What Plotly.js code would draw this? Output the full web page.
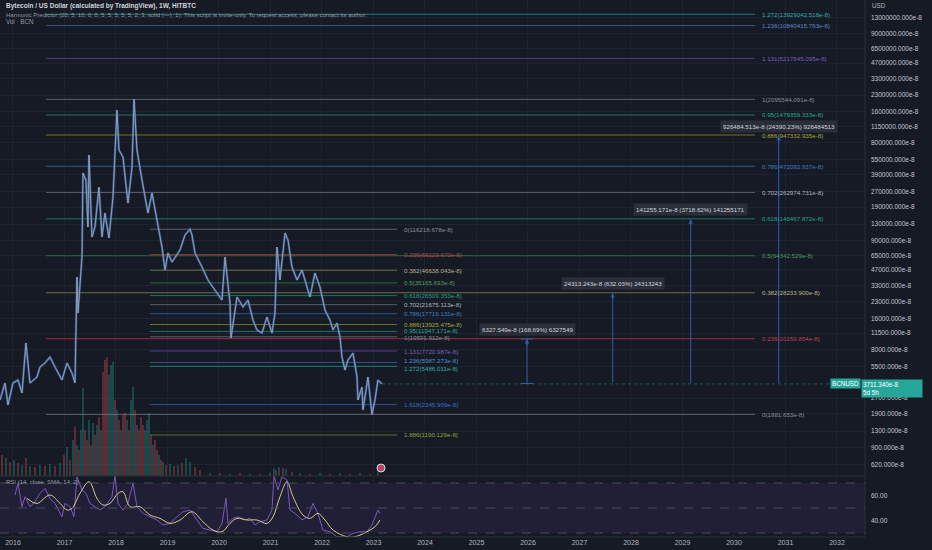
<!DOCTYPE html>
<html><head><meta charset="utf-8">
<script src="https://cdn.plot.ly/plotly-3.0.1.min.js"></script>
<style>html,body{margin:0;padding:0;background:#161a25;overflow:hidden}</style>
</head><body><div id="chart" style="width:932px;height:550px"></div>
<script>
// ---- price (weekly path, decimal years) ----
const priceDates = [2015.748,2015.845,2015.903,2016.000,2016.097,2016.175,2016.252,2016.330,2016.466,2016.524,2016.621,2016.718,2016.816,2016.951,2017.049,2017.146,2017.204,2017.243,2017.262,2017.340,2017.359,2017.417,2017.456,2017.476,2017.534,2017.592,2017.670,2017.728,2017.786,2017.864,2017.942,2018.019,2018.058,2018.136,2018.233,2018.311,2018.350,2018.408,2018.505,2018.563,2018.621,2018.699,2018.796,2018.893,2018.951,2019.010,2019.087,2019.243,2019.340,2019.437,2019.476,2019.534,2019.670,2019.786,2019.922,2020.058,2020.117,2020.214,2020.233,2020.350,2020.466,2020.563,2020.660,2020.738,2020.835,2020.932,2021.029,2021.087,2021.126,2021.184,2021.282,2021.340,2021.417,2021.515,2021.612,2021.709,2021.767,2021.864,2021.961,2022.058,2022.155,2022.214,2022.291,2022.350,2022.388,2022.447,2022.505,2022.602,2022.680,2022.699,2022.777,2022.796,2022.893,2022.971,2023.029,2023.087,2023.165];
const priceValues = [2592,3785,2319,3785,4046,3029,9222,3785,4325,5404,5906,6752,5404,4046,5906,4727,3785,40100,17990,62600,406200,347700,122100,606700,97700,122100,297500,97700,166700,95600,238100,1653000,678000,580200,208300,464400,2095544,678000,347700,238100,166700,260300,142700,78200,46860,68430,56000,73150,102200,116200,102200,68430,50100,37510,30010,24030,62600,22470,10300,25680,20560,24030,15390,12320,11520,16460,11520,17990,78200,37510,106800,91400,50100,37510,46860,32090,25680,43840,32090,19230,15390,12320,14400,10540,6752,5054,6316,7383,4325,2592,3462,2074,4325,1882,2592,4046,3711.34];
const lastPrice = 3711.34;

// ---- volume ----
const volumeDates = [2015.786,2015.864,2015.942,2016.019,2016.097,2016.175,2016.252,2016.330,2016.427,2016.524,2016.621,2016.718,2016.816,2016.913,2016.990,2017.049,2017.107,2017.165,2017.204,2017.243,2017.282,2017.320,2017.359,2017.398,2017.437,2017.476,2017.515,2017.553,2017.592,2017.631,2017.670,2017.709,2017.748,2017.786,2017.825,2017.864,2017.903,2017.942,2017.981,2018.019,2018.058,2018.097,2018.136,2018.175,2018.214,2018.252,2018.291,2018.330,2018.369,2018.408,2018.447,2018.485,2018.524,2018.563,2018.602,2018.641,2018.680,2018.718,2018.757,2018.796,2018.835,2018.874,2018.913,2018.971,2019.049,2019.126,2019.204,2019.282,2019.359,2019.437,2019.534,2019.631,2019.825,2020.019,2020.214,2020.408,2020.602,2020.796,2020.990,2021.068,2021.107,2021.165,2021.243,2021.301,2021.417,2021.573,2021.767,2021.961,2022.155,2022.350,2022.544,2022.738,2022.932,2023.087];
const volumeValues = [21,18,14,16,13,11,18,10,9,11,10,12,10,13,21,29,16,36,49,31,26,46,88,46,36,56,31,53,41,51,59,46,104,116,119,101,111,114,76,66,56,46,61,63,56,46,76,89,66,51,46,59,51,46,56,63,41,31,36,26,21,16,14,11,12,10,11,13,18,14,9,6,3,3,2,3,2,2,3,8,6,9,8,7,4,3,2,3,2,3,2,3,2,4];
const volumeUp = [0,1,0, 1,0,1,0,1,0,1,0,1,0,1,0, 1,0,1,0,1,0,1,1,0,0,1,0,1,0,1,0,1,0,0,0,1,1,1,0, 1,0,1,0,0,1,0,1,1,0,1,0,0,0,1,1,1,0,1,0,0,1,0,1,0, 1,0,1,0,1,1,0,0,1, 0,1,0,1,0,1, 1,0,1,0,1,0,1,0,1, 0,1,0,1,0, 1];
const eventDates = [2023.146];

// ---- RSI ----
const rsiDates = [2016.039,2016.097,2016.175,2016.233,2016.330,2016.427,2016.524,2016.621,2016.718,2016.816,2016.951,2017.010,2017.107,2017.184,2017.243,2017.340,2017.417,2017.495,2017.592,2017.689,2017.786,2017.922,2017.981,2018.039,2018.136,2018.233,2018.330,2018.408,2018.524,2018.660,2018.796,2018.913,2019.049,2019.184,2019.301,2019.437,2019.573,2019.689,2019.825,2019.961,2020.058,2020.136,2020.175,2020.272,2020.369,2020.505,2020.602,2020.699,2020.796,2020.932,2021.029,2021.068,2021.146,2021.223,2021.320,2021.379,2021.476,2021.612,2021.728,2021.825,2021.922,2022.019,2022.155,2022.291,2022.485,2022.602,2022.738,2022.874,2022.971,2023.029,2023.087,2023.126];
const rsiValues = [60.4,69.7,51,59,51,55,61.7,65.7,57.7,53.7,43,53.7,51,43,75,64.4,61.7,53.7,51,48.4,51,59,76,53.7,48.4,53.7,69.7,51,45.7,43,40.4,36.4,37.7,43,47,48.4,40.4,33.7,32.4,31,37.7,57.7,37.7,41.7,43,40.4,41.7,36.4,39,40.4,48.4,76,64.4,75,72.4,48.4,45.7,40.4,43,53.7,45.7,32.4,31,27,27,29.7,31,31,36.4,43,48.4,45.7];
const rsiMaDates = [2016.272,2016.466,2016.718,2016.913,2017.049,2017.146,2017.301,2017.476,2017.631,2017.748,2017.883,2018.039,2018.136,2018.272,2018.466,2018.660,2018.854,2019.049,2019.243,2019.476,2019.689,2019.883,2020.058,2020.214,2020.350,2020.544,2020.738,2020.932,2021.049,2021.184,2021.320,2021.437,2021.631,2021.767,2021.922,2022.058,2022.214,2022.485,2022.641,2022.874,2023.029,2023.126];
const rsiMaValues = [57.7,53.7,60.4,53.7,48.4,49.7,61.7,71,57.7,52.4,53.7,61.7,63,51,51,44.4,41.7,37.7,40.4,47,39,32.4,31,37.7,41.7,40.4,40.4,37.7,43,59,71,59,44.4,41.7,45.7,40.4,32.4,27,27,31,35,40.4];
const rsiLevels = [70, 50, 30];

// ---- Fibonacci set A (large) ----
const fibALevels = ['1.272','1.236','1.131','1','0.95','0.886','0.786','0.702','0.618','0.5','0.382','0.236','0'];
const fibAValues = [13929042.518,10840415.763,5217845.095,2095544.091,1479359.333,947332.935,472092.937,262974.731,146467.872,64342.529,28233.900,10150.854,1881.653];
const fibAStart = 2016.641, fibAEnd = 2030.408;
// ---- Fibonacci set B (small) ----
const fibBLevels = ['0','0.236','0.382','0.5','0.618','0.702','0.786','0.886','0.95','1','1.131','1.236','1.272','1.618','1.886'];
const fibBValues = [116218.678,66123.672,46638.043,35165.693,26509.353,21675.113,17719.131,13925.475,11947.171,10591.912,7720.987,5987.273,5486.011,2345.909,1190.129];
const fibBStart = 2018.660, fibBEnd = 2023.456;

// ---- price-range projections ----
const projDates = [2025.981, 2027.645, 2029.159, 2030.868];
const projBase = [3751.0, 3846.9, 3798.6, 3798.6];
const projChange = ['6327.549','24313.243','141255.171','926484.513'];
const projPct = ['168.69%','632.03%','3718.62%','24390.23%'];
const projRaw = ['6327549','24313243','141255171','926484513'];

// ---- axes ----
const priceTicks = [13000000,9000000,6500000,4700000,3300000,2300000,1600000,1150000,800000,550000,390000,270000,190000,130000,90000,65000,47000,33000,23000,16000,11500,8000,5500,2700,1900,1300,900,620];
const years = [2016,2017,2018,2019,2020,2021,2022,2023,2024,2025,2026,2027,2028,2029,2030,2031,2032];
const xRange = [2015.748, 2032.544];

const levelStyle = {
 '0':['#5d6069','#8b8e97'], '0.236':['#96303a','#b8464f'], '0.382':['#6e6c47','#b9b38e'],
 '0.5':['#2f6b3c','#4e9a5c'], '0.618':['#1c7566','#22a38b'], '0.702':['#5a5d66','#b2b5bd'],
 '0.786':['#275b8c','#3a80c2'], '0.886':['#6a7420','#a2ab36'], '0.95':['#1c7566','#2aa88f'],
 '1':['#5d6069','#8b8e97'], '1.131':['#503d86','#7a5fbb'], '1.236':['#35587f','#4d8fca'],
 '1.272':['#1c7e77','#2bb0a0'], '1.618':['#2a4f8f','#3b6cc2'], '1.886':['#5a7020','#8aa532']
};
// small vertical nudges so that near-coincident labels stay readable
const labelNudgeB = {'1.236': 2, '1.272': -2, '0.95': 1, '1': -1};

const L = Math.log10;
const FONT = '"Liberation Sans", Arial, sans-serif';
const traces = [];
const annotations = [];

traces.push({type:'bar', x:volumeDates, y:volumeValues, xaxis:'x', yaxis:'y3', width:0.03,
  marker:{color:volumeUp.map(u=>u?'rgba(38,166,154,0.42)':'rgba(239,83,80,0.42)'), line:{width:0}}, hoverinfo:'skip'});
traces.push({type:'scatter', mode:'markers', x:eventDates, y:[8], xaxis:'x', yaxis:'y3',
  marker:{size:8, color:'#b04a62', line:{color:'#d8dbe2', width:1}}, hoverinfo:'skip'});

function fibSet(levels, values, x0, x1, nudge) {
  levels.forEach((lv,i)=>{
    traces.push({type:'scatter', mode:'lines', x:[x0,x1], y:[values[i],values[i]], xaxis:'x', yaxis:'y',
      line:{color:levelStyle[lv][0], width:1}, hoverinfo:'skip'});
    annotations.push({x:x1, y:L(values[i]), xref:'x', yref:'y', xanchor:'left', yanchor:'middle', xshift:5,
      yshift:(nudge && nudge[lv]) || 0,
      showarrow:false, text:lv+'('+values[i].toFixed(3)+'e-8)', font:{size:6.2, color:levelStyle[lv][1], family:FONT}});
  });
}
fibSet(fibALevels, fibAValues, fibAStart, fibAEnd, null);
fibSet(fibBLevels, fibBValues, fibBStart, fibBEnd, labelNudgeB);

// current price line
traces.push({type:'scatter', mode:'lines', x:[priceDates[priceDates.length-1], xRange[1]], y:[lastPrice,lastPrice],
  xaxis:'x', yaxis:'y', line:{color:'rgba(38,166,154,0.45)', width:1, dash:'dot'}, hoverinfo:'skip'});

// price: blue bodies under light wicks
traces.push({type:'scatter', mode:'lines', x:priceDates, y:priceValues, xaxis:'x', yaxis:'y',
  line:{color:'rgba(66,112,180,0.75)', width:2.2}, hoverinfo:'skip'});
traces.push({type:'scatter', mode:'lines', x:priceDates, y:priceValues, xaxis:'x', yaxis:'y',
  line:{color:'#a3abbb', width:0.8}, hoverinfo:'skip'});

// projections
projDates.forEach((d,i)=>{
  const top = projBase[i] + parseFloat(projChange[i]);
  traces.push({type:'scatter', mode:'lines', x:[d,d], y:[projBase[i], top], xaxis:'x', yaxis:'y',
    line:{color:'#2e5aa6', width:1}, hoverinfo:'skip'});
  annotations.push({x:d, y:L(top), xref:'x', yref:'y', ax:d, ay:L(top)-0.08, axref:'x', ayref:'y',
    showarrow:true, arrowhead:2, arrowsize:0.9, arrowwidth:1, arrowcolor:'#2e5aa6', text:''});
  annotations.push({x:d, y:L(top), xref:'x', yref:'y', xanchor:'center', yanchor:'bottom', yshift:3, showarrow:false,
    text:projChange[i]+'e-8 ('+projPct[i]+') '+projRaw[i], bgcolor:'#2a2e39', borderpad:2,
    font:{size:6.2, color:'#d1d4dc', family:FONT}});
});
// end caps of the first range tool
[projBase[0], projBase[0] + parseFloat(projChange[0])].forEach(v=>{
  traces.push({type:'scatter', mode:'lines', x:[projDates[0]-0.12, projDates[0]+0.12], y:[v,v], xaxis:'x', yaxis:'y',
    line:{color:'#3b5fa8', width:1}, hoverinfo:'skip'});
});

// RSI
traces.push({type:'scatter', mode:'lines', x:rsiDates, y:rsiValues, xaxis:'x', yaxis:'y2',
  line:{color:'#7e57c2', width:1}, hoverinfo:'skip'});
traces.push({type:'scatter', mode:'lines', x:rsiMaDates, y:rsiMaValues, xaxis:'x', yaxis:'y2',
  line:{color:'#d3cf86', width:1, shape:'spline'}, hoverinfo:'skip'});

const priceDomainBottom = 61/537;
const shapes = [
  {type:'rect', xref:'paper', x0:0, x1:1, yref:'y2', y0:30, y1:70, fillcolor:'#201f36', line:{width:0}, layer:'below'},
  {type:'line', xref:'paper', x0:0, x1:1, yref:'paper', y0:priceDomainBottom, y1:priceDomainBottom, line:{color:'#2a2e39', width:1}},
  {type:'line', xref:'paper', x0:0, x1:1, yref:'paper', y0:0, y1:0, line:{color:'#2a2e39', width:1}},
  {type:'line', xref:'paper', x0:1, x1:1, yref:'paper', y0:0, y1:1, line:{color:'#2a2e39', width:1}}
];
rsiLevels.forEach(v=>shapes.push({type:'line', xref:'paper', x0:0, x1:1, yref:'y2', y0:v, y1:v,
  line:{color:'#4a4d5a', width:1, dash:'dash'}}));

// header texts
annotations.push({xref:'paper', yref:'paper', x:0, y:1, xanchor:'left', yanchor:'middle', xshift:4, yshift:-6, showarrow:false,
  text:'<b>Bytecoin / US Dollar (calculated by TradingView), 1W, HITBTC</b>', font:{size:6.5, color:'#d1d4dc', family:FONT}});
annotations.push({xref:'paper', yref:'paper', x:0, y:1, xanchor:'left', yanchor:'middle', xshift:4, yshift:-14.5, showarrow:false,
  text:'Harmonic Predictor (20, 5, 10, 0, 0, 5, 5, 5, 5, 5, 2, 3, solid (—), 1): This script is invite-only. To request access, please contact its author.',
  font:{size:6.0, color:'#9598a1', family:FONT}});
annotations.push({xref:'paper', yref:'paper', x:0, y:1, xanchor:'left', yanchor:'middle', xshift:4, yshift:-21.5, showarrow:false,
  text:'Vol · BCN', font:{size:6.3, color:'#9598a1', family:FONT}});
annotations.push({xref:'paper', yref:'paper', x:0, y:priceDomainBottom, xanchor:'left', yanchor:'middle', xshift:4, yshift:-6, showarrow:false,
  text:'RSI (14, close, SMA, 14, 2)', font:{size:6.0, color:'#9598a1', family:FONT}});
annotations.push({xref:'paper', yref:'paper', x:1, y:1, xanchor:'left', yanchor:'middle', xshift:5, yshift:-5, showarrow:false,
  text:'USD', font:{size:6.3, color:'#b2b5be', family:FONT}});
// last price labels
annotations.push({xref:'paper', yref:'y', x:1, y:L(lastPrice), xanchor:'left', yanchor:'top', xshift:-4, yshift:5, showarrow:false,
  text:'3711.340e-8<br>5d 5h', align:'left', width:58, bgcolor:'#26a69a', borderpad:1, font:{size:6.3, color:'#ffffff', family:FONT}});
annotations.push({xref:'paper', yref:'y', x:1, y:L(lastPrice), xanchor:'right', yanchor:'middle', xshift:-4, showarrow:false,
  text:'BCNUSD', bgcolor:'#26a69a', borderpad:1, font:{size:6.3, color:'#ffffff', family:FONT}});

const layout = {
  width:932, height:550, margin:{l:0, r:67, t:0, b:13},
  paper_bgcolor:'#161a25', plot_bgcolor:'#161a25', showlegend:false, hovermode:false, dragmode:false,
  font:{family:FONT, color:'#b2b5be', size:7},
  xaxis:{type:'linear', range:xRange, anchor:'y2', tickvals:years, ticktext:years.map(String),
    showgrid:true, gridcolor:'#1e2231', zeroline:false, showline:false, ticks:'',
    tickfont:{size:7, color:'#b2b5be', family:FONT}, fixedrange:true},
  yaxis:{type:'log', domain:[priceDomainBottom,1], range:[2.679,7.282], side:'right', anchor:'x',
    tickvals:priceTicks, ticktext:priceTicks.map(v=>v+'.000e-8'), showgrid:true, gridcolor:'#1e2231',
    zeroline:false, showline:false, ticks:'', ticklabelstandoff:5, tickfont:{size:6.5, color:'#c3c6ce', family:FONT}, fixedrange:true},
  yaxis2:{domain:[0,priceDomainBottom], range:[26.8,75.6], side:'right', anchor:'x', tickvals:[40,60], ticktext:['40.00','60.00'],
    showgrid:false, zeroline:false, showline:false, ticks:'', ticklabelstandoff:5, tickfont:{size:6.5, color:'#c3c6ce', family:FONT}, fixedrange:true},
  yaxis3:{overlaying:'y', anchor:'x', range:[0,476], visible:false, fixedrange:true},
  shapes:shapes, annotations:annotations
};
Plotly.newPlot('chart', traces, layout, {displayModeBar:false, staticPlot:true});
</script></body></html>
